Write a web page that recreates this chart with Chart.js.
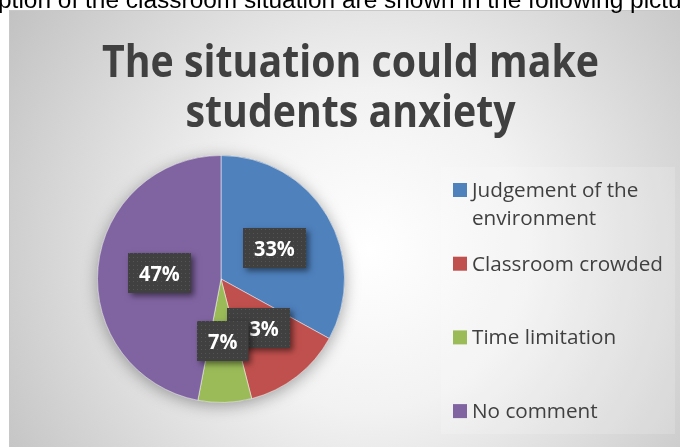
<!DOCTYPE html>
<html>
<head>
<meta charset="utf-8">
<script src="https://cdn.jsdelivr.net/npm/chart.js@4/dist/chart.umd.min.js"></script>
<style>
  html, body { margin: 0; padding: 0; background: #fff; }
  #wrap { position: relative; width: 680px; height: 447px; overflow: hidden; }
  canvas { display: block; }
</style>
</head>
<body>
<div id="wrap"><canvas id="c" width="680" height="447"></canvas></div>
<script>
// ---- data ----
const pageText = 'ption of the classroom situation are shown in the following pictu';
const titleLines = ['The situation could make', 'students anxiety'];
const categories = ['Judgement of the environment', 'Classroom crowded', 'Time limitation', 'No comment'];
const values = [33, 13, 7, 47];
const colors = ['#4F81BD', '#C0504D', '#9BBB59', '#8064A2'];

function fitFont(ctx, weight, family, text, targetW) {
  ctx.font = weight + ' 100px ' + family;
  const w = ctx.measureText(text).width;
  return 100 * targetW / w;
}

function wrapText(ctx, text, maxW) {
  const words = text.split(' ');
  const lines = [];
  let cur = '';
  for (const w of words) {
    const t = cur ? cur + ' ' + w : w;
    if (ctx.measureText(t).width > maxW && cur) { lines.push(cur); cur = w; }
    else cur = t;
  }
  if (cur) lines.push(cur);
  return lines;
}

function drawScaled(ctx, text, cx, y, sx) {
  ctx.save();
  ctx.translate(cx, y);
  ctx.scale(sx, 1);
  ctx.fillText(text, 0, 0);
  ctx.restore();
}

const dotPattern = (() => {
  const p = document.createElement('canvas');
  p.width = 4; p.height = 4;
  const g = p.getContext('2d');
  g.fillStyle = '#404040'; g.fillRect(0, 0, 4, 4);
  g.fillStyle = '#545454'; g.fillRect(1, 1, 1, 1);
  return p;
})();

const decor = {
  id: 'decor',
  beforeDraw(chart) {
    const ctx = chart.ctx;
    ctx.save();
    ctx.fillStyle = '#ffffff';
    ctx.fillRect(0, 0, chart.width, chart.height);
    const g = ctx.createRadialGradient(370, 250, 0, 370, 250, 460);
    g.addColorStop(0, '#ffffff');
    g.addColorStop(0.35, '#f2f2f2');
    g.addColorStop(1, '#bdbdbd');
    ctx.fillStyle = g;
    ctx.fillRect(9, 10, 680, 447);
    ctx.strokeStyle = '#c8c8c8';
    ctx.lineWidth = 1;
    ctx.beginPath();
    ctx.moveTo(9.5, 447); ctx.lineTo(9.5, 10.5); ctx.lineTo(680, 10.5);
    ctx.stroke();
    const ps = fitFont(ctx, 'normal', '"Liberation Sans", Arial', pageText, 684);
    ctx.font = 'normal ' + ps + 'px "Liberation Sans", Arial';
    ctx.fillStyle = '#000000';
    ctx.textBaseline = 'alphabetic';
    ctx.textAlign = 'left';
    ctx.fillText(pageText, -2, 8);
    ctx.font = 'bold 45px "Open Sans"';
    ctx.fillStyle = '#404040';
    ctx.textAlign = 'center';
    const tw = ctx.measureText(titleLines[0]).width;
    const sx = 497 / tw;
    drawScaled(ctx, titleLines[0], 350.5, 77, sx);
    drawScaled(ctx, titleLines[1], 350.5, 127, sx);
    ctx.fillStyle = 'rgba(255,255,255,0.16)';
    ctx.fillRect(441, 167, 234, 267);
    ctx.font = 'normal 20px "Open Sans"';
    const lsx = 191 / ctx.measureText(categories[1]).width;
    ctx.textAlign = 'left';
    const ds = chart.data.datasets[0];
    chart.data.labels.forEach((lab, i) => {
      const base = 197 + i * 73.7;
      ctx.fillStyle = ds.backgroundColor[i];
      ctx.fillRect(453, base - 14, 14, 14);
      ctx.fillStyle = '#404040';
      const lines = wrapText(ctx, lab, 195 / lsx);
      lines.forEach((ln, k) => drawScaled(ctx, ln, 472, base + k * 28, lsx));
    });
    ctx.restore();
  },
  beforeDatasetsDraw(chart) {
    const arc = chart.getDatasetMeta(0).data[0];
    if (!arc) return;
    const ctx = chart.ctx;
    ctx.save();
    ctx.shadowColor = 'rgba(0,0,0,0.35)';
    ctx.shadowBlur = 16;
    ctx.shadowOffsetY = 3;
    ctx.fillStyle = '#808080';
    ctx.beginPath();
    ctx.arc(arc.x, arc.y, arc.outerRadius, 0, Math.PI * 2);
    ctx.fill();
    ctx.restore();
  },
  afterDatasetsDraw(chart) {
    const ctx = chart.ctx;
    const meta = chart.getDatasetMeta(0);
    const vals = chart.data.datasets[0].data;
    const total = vals.reduce((a, b) => a + b, 0);
    ctx.save();
    ctx.font = 'bold 21px "Open Sans"';
    meta.data.forEach((arc, i) => {
      const p = arc.tooltipPosition();
      const txt = Math.round(vals[i] / total * 100) + '%';
      const tw = ctx.measureText(txt).width * 0.95;
      const w = tw + 22, h = 40;
      const x = Math.round(p.x - w / 2), y = Math.round(p.y - h / 2);
      ctx.save();
      ctx.shadowColor = 'rgba(0,0,0,0.5)';
      ctx.shadowBlur = 6;
      ctx.shadowOffsetX = 3;
      ctx.shadowOffsetY = 3;
      ctx.fillStyle = '#404040';
      ctx.fillRect(x, y, w, h);
      ctx.restore();
      ctx.fillStyle = ctx.createPattern(dotPattern, 'repeat');
      ctx.fillRect(x, y, w, h);
      ctx.fillStyle = '#ffffff';
      ctx.textAlign = 'center';
      ctx.textBaseline = 'alphabetic';
      drawScaled(ctx, txt, x + w / 2, y + h / 2 + 7.5, 0.95);
    });
    ctx.restore();
  }
};

new Chart(document.getElementById('c'), {
  type: 'pie',
  data: {
    labels: categories,
    datasets: [{
      data: values,
      backgroundColor: colors,
      borderColor: 'rgba(255,255,255,0.5)',
      borderWidth: 1
    }]
  },
  options: {
    responsive: false,
    animation: false,
    events: [],
    layout: { padding: { left: 97, right: 335, top: 155, bottom: 44 } },
    plugins: {
      legend: { display: false },
      title: { display: false },
      tooltip: { enabled: false }
    }
  },
  plugins: [decor]
});
</script>
</body>
</html>
